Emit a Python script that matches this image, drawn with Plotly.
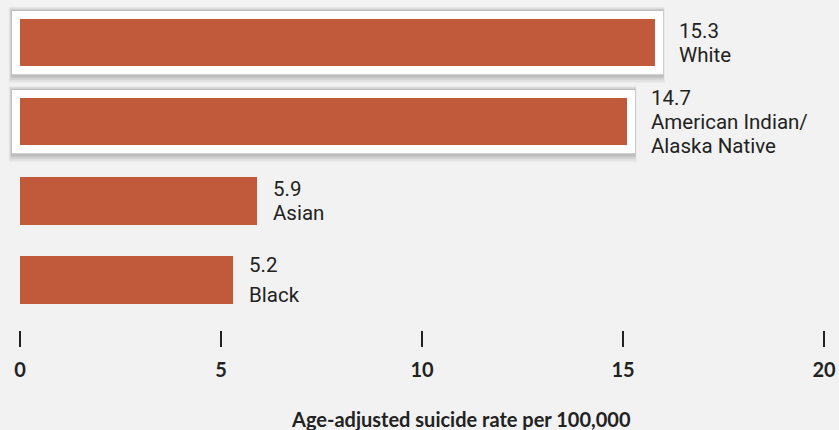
import plotly.graph_objects as go

# ---- data ----
categories = ["White", "American Indian/<br>Alaska Native", "Asian", "Black"]
rate_labels = ["15.3", "14.7", "5.9", "5.2"]
bar_lengths = [15.8, 15.1, 5.9, 5.3]  # bar lengths as drawn in the reference
highlighted = [True, True, False, False]
line_gaps = [24, 24, 24, 30]  # spacing between label lines (px)
x_ticks = [0, 5, 10, 15, 20]
x_title = "Age-adjusted suicide rate per 100,000"

BAR_COLOR = "#c05a3a"
BG = "#f2f2f2"
TEXT = "#222222"
FONT = "Lato, 'Open Sans', 'Noto Sans', sans-serif"
LABEL_FONT = "Roboto, Lato, sans-serif"

order = list(reversed(categories))  # bottom to top
bar_w = 0.6

fig = go.Figure()
fig.add_trace(go.Bar(
    x=bar_lengths, y=categories, orientation="h",
    width=bar_w, marker=dict(color=BAR_COLOR, line=dict(width=0)),
    hoverinfo="skip",
))

shapes = []
annotations = []
for cat, val, lab, hl, gap in zip(categories, bar_lengths, rate_labels, highlighted, line_gaps):
    yi = order.index(cat)
    if hl:
        px = 0.2   # horizontal padding in axis units
        py = 0.1   # vertical padding in category units
        for k, op in enumerate([0.05, 0.07, 0.10]):
            g = 0.06 - 0.02 * k
            shapes.append(dict(type="rect", xref="x", yref="y", layer="below",
                               x0=-px - g * 1.3, x1=val + px + g * 0.6,
                               y0=yi - bar_w / 2 - py - g * 1.6 - 0.012, y1=yi + bar_w / 2 + py + g * 0.8,
                               fillcolor=f"rgba(0,0,0,{op})", line=dict(width=0)))
        shapes.append(dict(type="rect", xref="x", yref="y", layer="below",
                           x0=-px, x1=val + px, y0=yi - bar_w / 2 - py, y1=yi + bar_w / 2 + py,
                           fillcolor="white", line=dict(width=0)))
    xshift = 14 + (8 if hl else 0)
    lines = [lab] + cat.split("<br>")
    n = len(lines)
    for k, line in enumerate(lines):
        annotations.append(dict(
            x=val, y=yi, xref="x", yref="y",
            text=line, showarrow=False, align="left",
            xanchor="left", yanchor="middle", xshift=xshift,
            yshift=-(k - (n - 1) / 2) * gap,
            font=dict(family=LABEL_FONT, size=20.5, color=TEXT),
        ))

annotations.append(dict(
    x=0.557, y=-0.27, xref="paper", yref="paper", text=x_title, showarrow=False,
    xanchor="center", yanchor="middle",
    font=dict(family=FONT, size=20, color=TEXT, weight="bold"),
))

fig.update_layout(
    width=839, height=430,
    margin=dict(l=4, r=15, t=0, b=100),
    paper_bgcolor=BG, plot_bgcolor=BG,
    showlegend=False,
    shapes=shapes, annotations=annotations,
    bargap=0,
)
fig.update_xaxes(
    range=[-0.398, 20], tickvals=x_ticks, ticktext=[str(t) for t in x_ticks],
    ticks="outside", ticklen=16, tickwidth=2, tickcolor=TEXT,
    showgrid=False, zeroline=False, showline=False,
    tickfont=dict(family=FONT, size=20, color=TEXT, weight="bold"),
    ticklabelstandoff=6,
    fixedrange=True,
)
fig.update_yaxes(
    type="category", categoryorder="array", categoryarray=order,
    range=[-0.633, 3.538], showticklabels=False, ticks="",
    showgrid=False, zeroline=False, showline=False, fixedrange=True,
)

fig.write_html("out.html", config={"displayModeBar": False},
               post_script="document.body.style.margin='0';document.body.style.overflow='hidden';")
